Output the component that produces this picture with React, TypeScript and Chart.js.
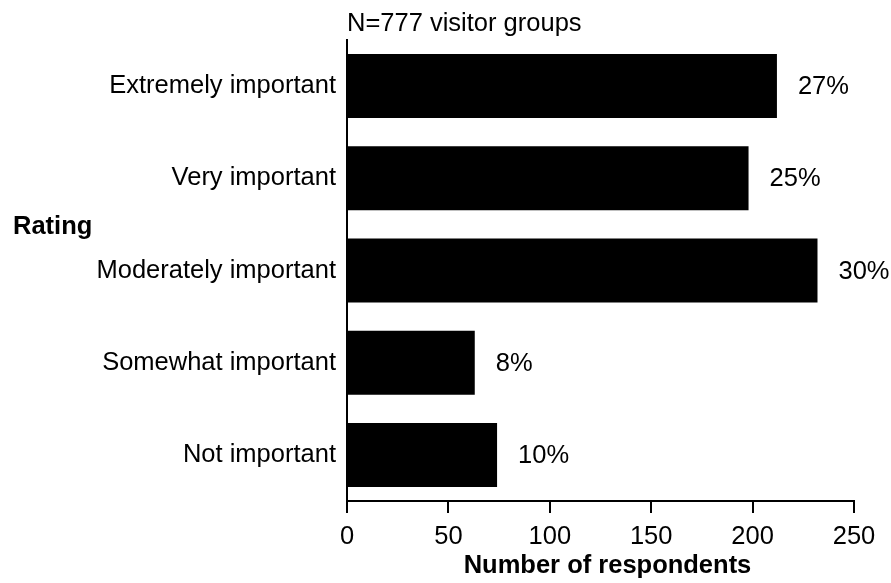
import React, { useEffect, useRef } from "react";
import { Chart, registerables } from "chart.js";

Chart.register(...registerables);

const categories = [
  "Extremely important",
  "Very important",
  "Moderately important",
  "Somewhat important",
  "Not important",
];
const respondents = [212, 198, 232, 63, 74];
const percentLabels = ["27%", "25%", "30%", "8%", "10%"];
const xMin = 0;
const xMax = 250;
const xStep = 50;
const chartTitle = "N=777 visitor groups";
const yTitle = "Rating";
const xTitle = "Number of respondents";

const FONT = "'Liberation Sans', Arial, Helvetica, sans-serif";
const FS = 25.5;

export default function App() {
  const ref = useRef<HTMLCanvasElement>(null);

  useEffect(() => {
    if (!ref.current) return;
    const textPlugin = {
      id: "customText",
      afterDraw(chart: any) {
        const ctx = chart.ctx;
        const area = chart.chartArea;
        const meta = chart.getDatasetMeta(0);
        ctx.save();
        ctx.fillStyle = "#000";
        ctx.font = `${FS}px ${FONT}`;
        ctx.textBaseline = "middle";
        ctx.textAlign = "left";
        meta.data.forEach((bar: any, i: number) => {
          ctx.fillText(percentLabels[i], bar.x + 21, bar.y + 1);
        });
        ctx.fillText(chartTitle, area.left, 24);
        ctx.font = `bold ${FS}px ${FONT}`;
        ctx.fillText(yTitle, 13, 227);
        ctx.textAlign = "center";
        ctx.fillText(xTitle, (area.left + area.right) / 2 + 7, 566);
        ctx.restore();
      },
    };

    const chart = new Chart(ref.current, {
      type: "bar",
      data: {
        labels: categories,
        datasets: [
          {
            data: respondents,
            backgroundColor: "#000",
            borderWidth: 0,
            barPercentage: 0.694,
            categoryPercentage: 1,
          },
        ],
      },
      options: {
        indexAxis: "y",
        responsive: false,
        animation: false,
        color: "#000",
        layout: { padding: { top: 40, right: 37, left: 0, bottom: 0 } },
        plugins: {
          legend: { display: false },
          tooltip: { enabled: false },
          title: { display: false },
        },
        scales: {
          x: {
            type: "linear",
            min: xMin,
            max: xMax,
            ticks: {
              stepSize: xStep,
              color: "#000",
              font: { family: FONT, size: FS },
              padding: 9,
              maxRotation: 0,
            },
            grid: {
              display: true,
              drawOnChartArea: false,
              drawTicks: true,
              tickLength: 12,
              color: "#000",
              lineWidth: 2,
            },
            border: { display: true, color: "#000", width: 2 },
            title: { display: false },
            afterFit: (scale: any) => {
              scale.height = 82;
            },
          },
          y: {
            type: "category",
            offset: true,
            ticks: {
              color: "#000",
              font: { family: FONT, size: FS },
              padding: 11,
            },
            grid: {
              display: true,
              drawOnChartArea: false,
              drawTicks: false,
              color: "rgba(0,0,0,0)",
            },
            border: { display: true, color: "#000", width: 2 },
            afterFit: (scale: any) => {
              scale.width = 347;
            },
          },
        },
      },
      plugins: [textPlugin],
    } as any);

    return () => chart.destroy();
  }, []);

  return (
    <div style={{ position: "fixed", left: 0, top: 0, width: 891, height: 583, background: "#fff" }}>
      <canvas ref={ref} width={891} height={583} style={{ width: 891, height: 583 }} />
    </div>
  );
}
